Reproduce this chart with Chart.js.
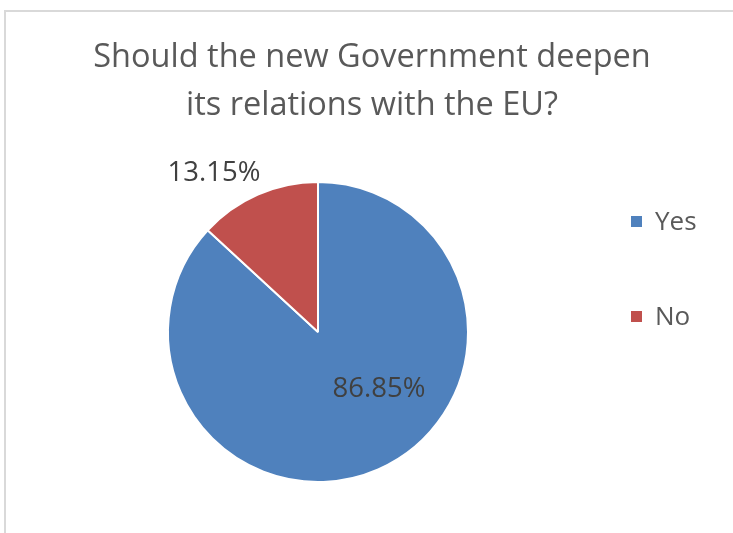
<!DOCTYPE html>
<html>
<head>
<meta charset="utf-8">
<script src="https://cdn.jsdelivr.net/npm/chart.js@4/dist/chart.umd.min.js"></script>
<style>
  html, body { margin: 0; padding: 0; background: #fff; }
  #wrap { position: relative; width: 733px; height: 533px; }
  #frame {
    position: absolute; left: 4px; top: 10px; right: 0; bottom: 0;
    border-left: 2px solid #d9d9d9; border-top: 2px solid #d9d9d9;
  }
  canvas { position: absolute; left: 0; top: 0; }
</style>
</head>
<body>
<div id="wrap">
  <div id="frame"></div>
  <canvas id="chart" width="733" height="533"></canvas>
</div>
<script>
const titleLines = ["Should the new Government deepen", "its relations with the EU?"];
const categories = ["Yes", "No"];
const shares = [86.85, 13.15];
const sliceColors = ["#4F81BD", "#C0504D"];

const textColor = "#595959";
const fontFamily = "'Open Sans', 'Noto Sans', sans-serif";

// offsets of the value labels from the pie centre (px)
const labelOffsets = [[61, 57], [-104, -159]];

const overlay = {
  id: "overlay",
  afterDraw(chart) {
    const ctx = chart.ctx;
    ctx.save();
    ctx.fillStyle = textColor;
    ctx.textAlign = "center";
    ctx.textBaseline = "alphabetic";
    ctx.font = "32.5px " + fontFamily;
    ctx.fillText(titleLines[0], 372, 67);
    ctx.fillText(titleLines[1], 372, 115);

    // legend
    ctx.textAlign = "left";
    ctx.font = "26px " + fontFamily;
    const legendY = [222, 317];
    categories.forEach((c, i) => {
      ctx.fillStyle = sliceColors[i];
      ctx.fillRect(631, legendY[i] - 6, 11, 11);
      ctx.fillStyle = textColor;
      ctx.textBaseline = "middle";
      ctx.fillText(c, 655, legendY[i] + 1);
    });

    // value labels
    const arcs = chart.getDatasetMeta(0).data;
    ctx.font = "27.5px " + fontFamily;
    ctx.fillStyle = "#404040";
    ctx.textAlign = "center";
    arcs.forEach((a, i) => {
      ctx.fillText(shares[i].toFixed(2) + "%", a.x + labelOffsets[i][0], a.y + labelOffsets[i][1]);
    });
    ctx.restore();
  }
};

new Chart(document.getElementById("chart"), {
  type: "pie",
  data: {
    labels: categories,
    datasets: [{
      data: shares,
      backgroundColor: sliceColors,
      borderColor: "#ffffff",
      borderWidth: 2
    }]
  },
  options: {
    responsive: false,
    animation: false,
    layout: { padding: { left: 167, right: 264, top: 181, bottom: 50 } },
    plugins: {
      legend: { display: false },
      title: { display: false },
      tooltip: { enabled: false }
    }
  },
  plugins: [overlay]
});
</script>
</body>
</html>
